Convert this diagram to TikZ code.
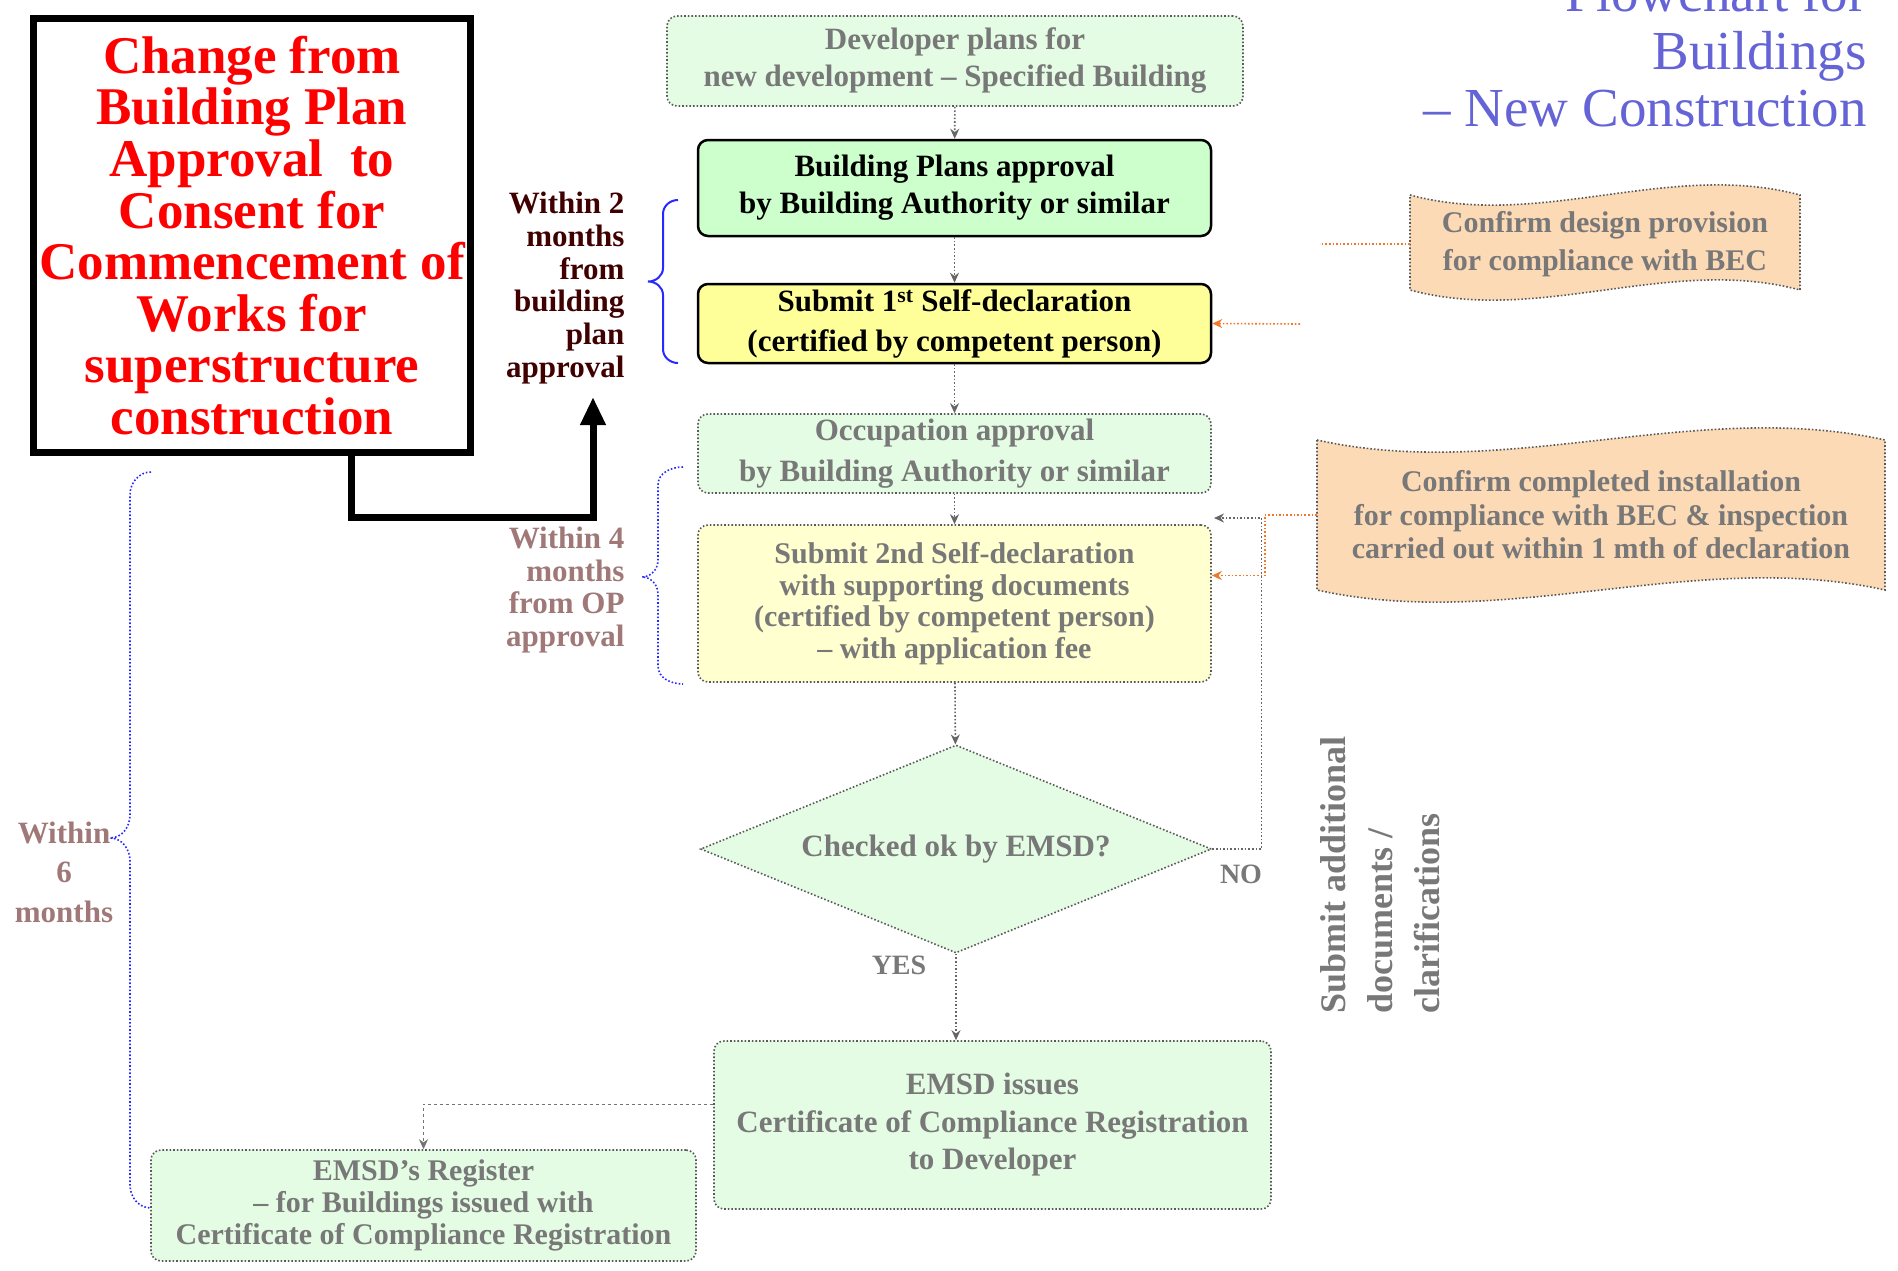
\documentclass[tikz,border=0pt]{standalone}
\usepackage{fontspec}
\setmainfont{Liberation Serif}
\usetikzlibrary{arrows.meta,shapes.geometric}

\definecolor{solidgreen}{RGB}{204,255,204}
\definecolor{solidyellow}{RGB}{255,255,153}
\definecolor{palegreen}{RGB}{228,252,228}
\definecolor{paleyellow}{RGB}{255,255,208}
\definecolor{paleorange}{RGB}{253,218,182}
\definecolor{linkorange}{RGB}{240,120,40}
\definecolor{darkmaroon}{RGB}{64,0,0}
\definecolor{palemaroon}{RGB}{160,120,120}
\definecolor{titleblue}{RGB}{100,100,215}
\definecolor{paletext}{RGB}{120,120,120}
\definecolor{braceblue}{RGB}{40,40,255}

\tikzset{
  boxfont/.style={font=\bfseries\fontsize{31}{37}\selectfont},
  solidbox/.style={draw=black, line width=2.5pt, rounded corners=10pt, align=center,
    inner sep=0pt, boxfont},
  palebox/.style={draw=black!65, dotted, line width=1.6pt, rounded corners=10pt,
    align=center, inner sep=0pt, text=paletext, boxfont},
  flowarrow/.style={draw=black!60, dotted, line width=1.6pt,
    -{Stealth[length=10pt,width=9pt]}},
  orline/.style={draw=linkorange, dotted, line width=1.6pt},
  orarrow/.style={orline, -{Stealth[length=10pt,width=9pt]}},
  wavebox/.style={draw=black!65, dotted, line width=1.6pt, fill=paleorange},
  paletag/.style={text=paletext, font=\bfseries\fontsize{28}{30}\selectfont},
  titletext/.style={text=titleblue, font=\fontsize{55}{57}\selectfont, anchor=base east},
}

\begin{document}
\begin{tikzpicture}[x=1pt,y=-1pt]
\useasboundingbox (0,0) rectangle (1898,1270);

% ---------- title ----------
\node[titletext] (t1) at (1870,11) {Flowchart for};
\node[titletext] (t2) at (1870,69) {Buildings};
\node[titletext] (t3) at (1870,126) {– New Construction};

% ---------- red statement box ----------
\node[draw=black, line width=7pt, minimum width=437, minimum height=434,
      inner sep=0pt, align=center, text=red,
      font=\bfseries\fontsize{53}{51.6}\selectfont] (rb) at (252,235.5)
  {Change from\\Building Plan\\Approval\ \ to\\Consent for\\Commencement of\\Works for\\superstructure\\construction};

\coordinate (w2tip) at (593,397);
\draw[line width=7pt, -{Triangle[length=28pt,width=24pt]}]
  ([xshift=99pt]rb.south) -- ++(0,61) -| (w2tip);

% ---------- main column ----------
\node[palebox, fill=palegreen, minimum width=576, minimum height=90] (dev) at (955,61)
  {Developer plans for\\new development – Specified Building};
\node[solidbox, fill=solidgreen, minimum width=513, minimum height=96] (bp) at (954.5,188)
  {\raisebox{-4pt}{Building Plans approval}\\\raisebox{-4pt}{by Building Authority or similar}};
\node[solidbox, fill=solidyellow, minimum width=513, minimum height=79,
      font=\bfseries\fontsize{31}{40}\selectfont] (sd1) at (954.5,323.5)
  {\raisebox{-4pt}{Submit 1\textsuperscript{st} Self-declaration}\\\raisebox{-4pt}{(certified by competent person)}};
\node[palebox, fill=palegreen, minimum width=513, minimum height=79,
      font=\bfseries\fontsize{31}{41}\selectfont] (occ) at (954.5,453.5)
  {\raisebox{-3pt}{Occupation approval}\\\raisebox{-3pt}{by Building Authority or similar}};
\node[palebox, fill=paleyellow, minimum width=513, minimum height=157,
      font=\bfseries\fontsize{30}{31.5}\selectfont] (sd2) at (954.5,603.5)
  {Submit 2nd Self-declaration\\with supporting documents\\(certified by competent person)\\– with application fee};
\node[palebox, fill=palegreen, shape=diamond, rounded corners=0pt, aspect=2.46,
      minimum width=511, minimum height=208] (chk) at (956,849)
  {Checked ok by EMSD?};
\node[palebox, fill=palegreen, minimum width=557, minimum height=168,
      font=\bfseries\fontsize{31}{37.5}\selectfont] (iss) at (992.5,1125)
  {EMSD issues\\Certificate of Compliance Registration\\to Developer};
\node[palebox, fill=palegreen, minimum width=545, minimum height=111,
      font=\bfseries\fontsize{30}{32}\selectfont] (reg) at (423.5,1205.5)
  {EMSD's Register\\– for Buildings issued with\\Certificate of Compliance Registration};

% flow connectors
\draw[flowarrow] (dev) -- (bp);
\draw[flowarrow] (bp) -- (sd1);
\draw[flowarrow] (sd1) -- (occ);
\draw[flowarrow] (occ) -- (sd2);
\draw[flowarrow] (sd2) -- (chk);
\draw[flowarrow] (chk.south) -- (chk.south |- iss.north);
\coordinate (noend) at (1214,518);
\draw[flowarrow] (chk.east) -- ++(49,0) |- (noend);
\draw[draw=black!55, dashed, line width=0.8pt, -{Stealth[length=10pt,width=9pt]}]
  ([yshift=21pt]iss.west) -| (reg.north);

\node[paletag] (nolbl) at (1241,874) {NO};
\node[paletag] (yeslbl) at (899,965) {YES};

\node[rotate=90, align=left, text=paletext,
      font=\bfseries\fontsize{36}{47}\selectfont] (addl) at (1380,875)
  {Submit additional\\documents /\\clarifications};

% ---------- time limits ----------
\node[anchor=east, align=right, text=darkmaroon,
      font=\bfseries\fontsize{31}{32.7}\selectfont] (w2) at (628,288)
  {Within 2\\months\\from\\building\\plan\\approval};
\draw[braceblue, line width=2pt]
  (678,200) to[out=180,in=90] (663,214) -- (663,268) to[out=-90,in=0] (648,281.5)
  to[out=0,in=90] (663,295) -- (663,349) to[out=-90,in=180] (678,363);

\node[anchor=east, align=right, text=palemaroon,
      font=\bfseries\fontsize{31}{32.7}\selectfont] (w4) at (628,590)
  {Within 4\\months\\from OP\\approval};
\draw[braceblue, dotted, line width=1.6pt]
  (683,467) to[out=180,in=90] (658,485) -- (658,560) to[out=-90,in=0] (642,577)
  to[out=0,in=90] (658,594) -- (658,666) to[out=-90,in=180] (683,684);

\node[align=center, text=palemaroon,
      font=\bfseries\fontsize{31}{39.5}\selectfont] (w6) at (64,872)
  {Within\\6\\months};
\draw[braceblue, dotted, line width=1.6pt]
  (151,472) to[out=180,in=90] (130,495) -- (130,815) to[out=-90,in=0] (110,838)
  to[out=0,in=90] (130,861) -- (130,1185) to[out=-90,in=180] (151,1208);

% ---------- confirmation notes ----------
\draw[wavebox] (1410,195) .. controls (1540,230) and (1670,160) .. (1800,195)
  -- (1800,290) .. controls (1670,255) and (1540,325) .. (1410,290) -- cycle;
\node[minimum width=390, minimum height=95, inner sep=0pt, align=center, text=paletext,
      font=\bfseries\fontsize{30}{38}\selectfont] (ob1) at (1605,244)
  {Confirm design provision\\for compliance with BEC};

\draw[wavebox] (1317,440) .. controls (1506,482) and (1696,398) .. (1885,440)
  -- (1885,590) .. controls (1696,548) and (1506,632) .. (1317,590) -- cycle;
\node[minimum width=568, minimum height=150, inner sep=0pt, align=center, text=paletext,
      font=\bfseries\fontsize{30}{33.5}\selectfont] (ob2) at (1601,515)
  {Confirm completed installation\\for compliance with BEC \& inspection\\carried out within 1 mth of declaration};

\draw[orline] (ob1.west) -- ++(-90,0);
\coordinate (oc1) at (1300,324);
\draw[orarrow] (oc1) -- (sd1.east);
\draw[orarrow] (ob2.west) -- ++(-52,0) |- ([yshift=28pt]sd2.east);

\end{tikzpicture}
\end{document}
